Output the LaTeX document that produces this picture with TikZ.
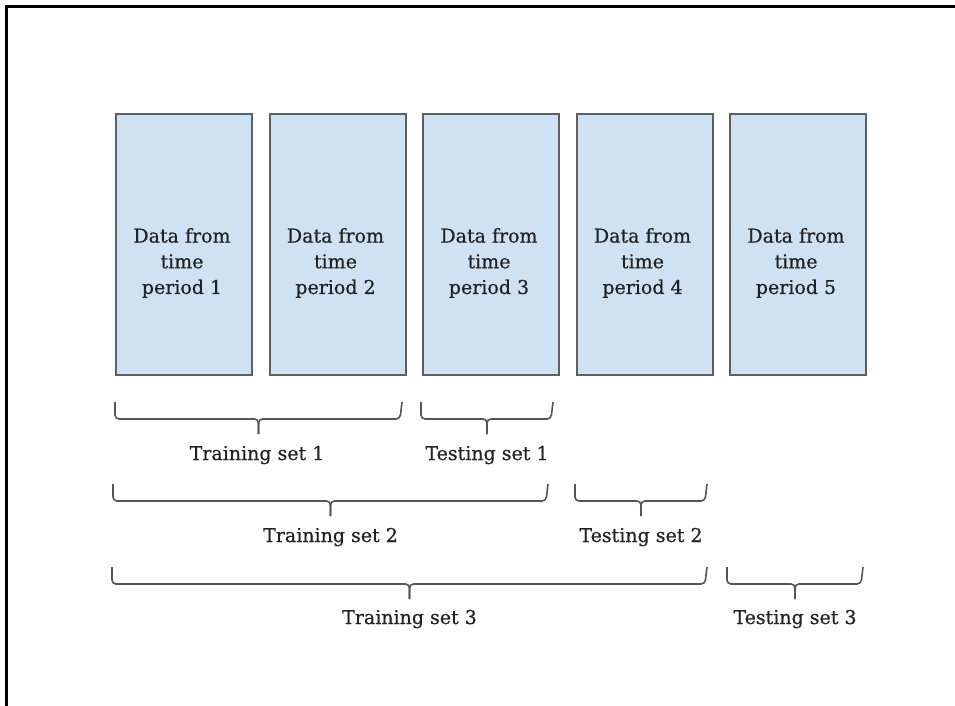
\documentclass[tikz,border=0pt]{standalone}
\usepackage{fontspec}
\setmainfont[FakeBold=0.6]{DejaVu Serif}
\definecolor{boxfill}{HTML}{CFE2F3}
\definecolor{boxline}{HTML}{5F5F5F}
\definecolor{braceline}{HTML}{555555}
\definecolor{txt}{HTML}{222222}
\newcommand{\setbrace}[3]{%
  \draw[bracestyle] (#1,#3) -- (#1,#3+17) -- ({(#1+#2)/2},#3+17) -- ({(#1+#2)/2},#3+32);
  \draw[bracestyle] (#2,#3) -- (#2-2,#3+17) -- ({(#1+#2)/2},#3+17) -- ({(#1+#2)/2},#3+32);}
\begin{document}
\begin{tikzpicture}[x=1pt,y=-1pt,
  periodbox/.style={draw=boxline, fill=boxfill, line width=2.2pt, minimum width=136pt, minimum height=261pt, inner sep=0pt, anchor=north west},
  periodtext/.style={text=txt, align=center, inner sep=0pt, font=\fontsize{19}{25.7}\selectfont},
  setlabel/.style={text=txt, inner sep=0pt, anchor=base, font=\fontsize{19}{23}\selectfont},
  bracestyle/.style={draw=braceline, line width=1.6pt, rounded corners=4pt},
  frameline/.style={draw=black, line width=2.4pt}]
\useasboundingbox (0,0) rectangle (955,706);
\fill[white] (0,0) rectangle (955,706);
% frame
\coordinate (fb) at (6.5,706);
\coordinate (fc) at (6.5,6.7);
\coordinate (fr) at (955,6.7);
\draw[frameline] (fb) -- (fc) -- (fr);
% boxes
\foreach \i/\x in {1/115,2/268.5,3/422,4/575.5,5/729}{
  \node[periodbox] (b\i) at (\x,113) {};
  \node[periodtext] (t\i) at (\x+67,263) {Data from\\time\\period \i};
}
% braces row 1
\setbrace{115}{402}{402}
\setbrace{421}{553}{402}
\node[setlabel] (tr1) at (257,460) {Training set 1};
\node[setlabel] (te1) at (487,460) {Testing set 1};
% row 2
\setbrace{113}{548}{484}
\setbrace{575}{707}{484}
\node[setlabel] (tr2) at (330.5,542) {Training set 2};
\node[setlabel] (te2) at (641,542) {Testing set 2};
% row 3
\setbrace{112}{707}{567}
\setbrace{727}{863}{567}
\node[setlabel] (tr3) at (409.5,624) {Training set 3};
\node[setlabel] (te3) at (795,624) {Testing set 3};
\end{tikzpicture}
\end{document}
